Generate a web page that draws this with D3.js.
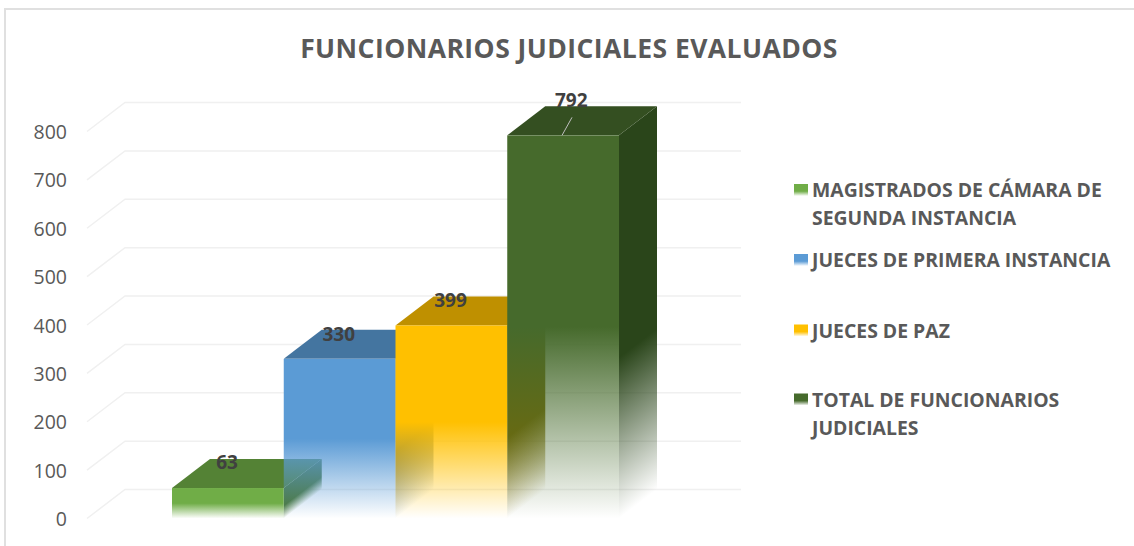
<!DOCTYPE html>
<html><head><meta charset="utf-8">
<script src="https://cdn.jsdelivr.net/npm/d3@7/dist/d3.min.js"></script>
<style>html,body{margin:0;padding:0;background:#fff}svg{display:block}</style></head>
<body><svg id="c" width="1134" height="546"></svg>
<script>
const titleText = "FUNCIONARIOS JUDICIALES EVALUADOS";
const categories = ["MAGISTRADOS DE CÁMARA DE SEGUNDA INSTANCIA","JUECES DE PRIMERA INSTANCIA","JUECES DE PAZ","TOTAL DE FUNCIONARIOS JUDICIALES"];
const values = [63,330,399,792];
const frontColors = ["#70AD47","#5B9BD5","#FFC000","#466A2C"];
const topColors = ["#548235","#4475A0","#BF9000","#344F21"];
const sideColors = ["#4A7530","#3C6A94","#7F6A00","#2A451A"];
const legendLines = [["MAGISTRADOS DE CÁMARA DE","SEGUNDA INSTANCIA"],["JUECES DE PRIMERA INSTANCIA"],["JUECES DE PAZ"],["TOTAL DE FUNCIONARIOS","JUDICIALES"]];
const legendY = [190,260,330.5,399.5];
const yTicks = [0,100,200,300,400,500,600,700,800];

const font = "'Open Sans','Noto Sans',sans-serif";
const svg = d3.select("#c");
const y = d3.scaleLinear().domain([0,800]).range([518.5,131.5]);
const x = d3.scaleBand().domain(categories).range([172,619]).padding(0);
const dx = 38, dy = -29;
const defs = svg.append("defs");

svg.append("rect").attr("x",5).attr("y",9).attr("width",1300).attr("height",700)
  .attr("fill","#fff").attr("stroke","#E0E0E0").attr("stroke-width",2);

// gridlines
const grid = svg.append("g").attr("fill","none").attr("stroke","#F0F0F0").attr("stroke-width",1.5);
yTicks.forEach(t=>{
  grid.append("path").attr("d",d3.line()([[87,y(t)],[87+dx,y(t)+dy],[741,y(t)+dy]]));
});

// axis labels
svg.append("g").selectAll("text").data(yTicks).join("text")
  .attr("x",67).attr("y",d=>y(d)+7.5).attr("text-anchor","end")
  .attr("font-family",font).attr("font-size",19.5).attr("fill","#595959").text(d=>d);

svg.append("text").attr("x",569).attr("y",58).attr("text-anchor","middle")
  .attr("font-family",font).attr("font-weight",700).attr("font-size",26.5).attr("letter-spacing",0.45)
  .attr("fill","#595959").text(titleText);

// vertical fade, solid down to `start`; k shears the iso-lines along the side face
function fadeGrad(id,color,top,bottom,start,k,xRef){
  const g = defs.append("linearGradient").attr("id",id).attr("gradientUnits","userSpaceOnUse")
    .attr("x1",0).attr("x2",0).attr("y1",top).attr("y2",bottom);
  if(k) g.attr("gradientTransform",`matrix(1 ${k} 0 1 0 ${-k*xRef})`);
  g.append("stop").attr("offset",0).attr("stop-color",color);
  g.append("stop").attr("offset",start).attr("stop-color",color);
  g.append("stop").attr("offset",1).attr("stop-color",color).attr("stop-opacity",0);
}

const bars = svg.append("g");
categories.forEach((c,i)=>{
  const x0 = x(c), x1 = x0 + x.bandwidth();
  const yT = y(values[i]), yB = y(0);
  const g = bars.append("g");
  fadeGrad("f"+i,frontColors[i],yT,yB,0.5);
  fadeGrad("s"+i,sideColors[i],yT,yB,0.58,dy/dx,x1);
  // right side
  g.append("path").attr("d",d3.line()([[x1,yT],[x1+dx,yT+dy],[x1+dx,yB+dy],[x1,yB]]))
    .attr("fill","url(#s"+i+")");
  // top
  g.append("path").attr("d",d3.line()([[x0,yT],[x0+dx,yT+dy],[x1+dx,yT+dy],[x1,yT]]))
    .attr("fill",topColors[i]);
  // front
  g.append("rect").attr("x",x0).attr("y",yT).attr("width",x1-x0).attr("height",yB-yT)
    .attr("fill","url(#f"+i+")");
});

// data labels
const lblOff = [[55,-19],[55,-18],[55,-18],[64,-28]];
svg.append("g").selectAll("text").data(values).join("text")
  .attr("x",(d,i)=>x(categories[i])+lblOff[i][0])
  .attr("y",(d,i)=>y(d)+lblOff[i][1])
  .attr("text-anchor","middle").attr("font-family",font).attr("font-weight",700)
  .attr("font-size",19).attr("fill","#404040").text(d=>d);

// leader line to the last label
const last = values.length-1;
svg.append("line").attr("x1",562).attr("y1",y(values[last])).attr("x2",572).attr("y2",y(values[last])-18)
  .attr("stroke","#BFBFBF").attr("stroke-width",1);

// legend
const lg = svg.append("g");
categories.forEach((c,i)=>{
  fadeGrad("l"+i,frontColors[i],legendY[i]-6,legendY[i]+6,0.6);
  lg.append("rect").attr("x",794).attr("y",legendY[i]-6).attr("width",14).attr("height",12)
    .attr("fill","url(#l"+i+")");
  legendLines[i].forEach((t,j)=>{
    lg.append("text").attr("x",812).attr("y",legendY[i]+7+j*28)
      .attr("font-family",font).attr("font-weight",700).attr("font-size",19.4)
      .attr("fill","#595959").text(t);
  });
});
</script></body></html>
